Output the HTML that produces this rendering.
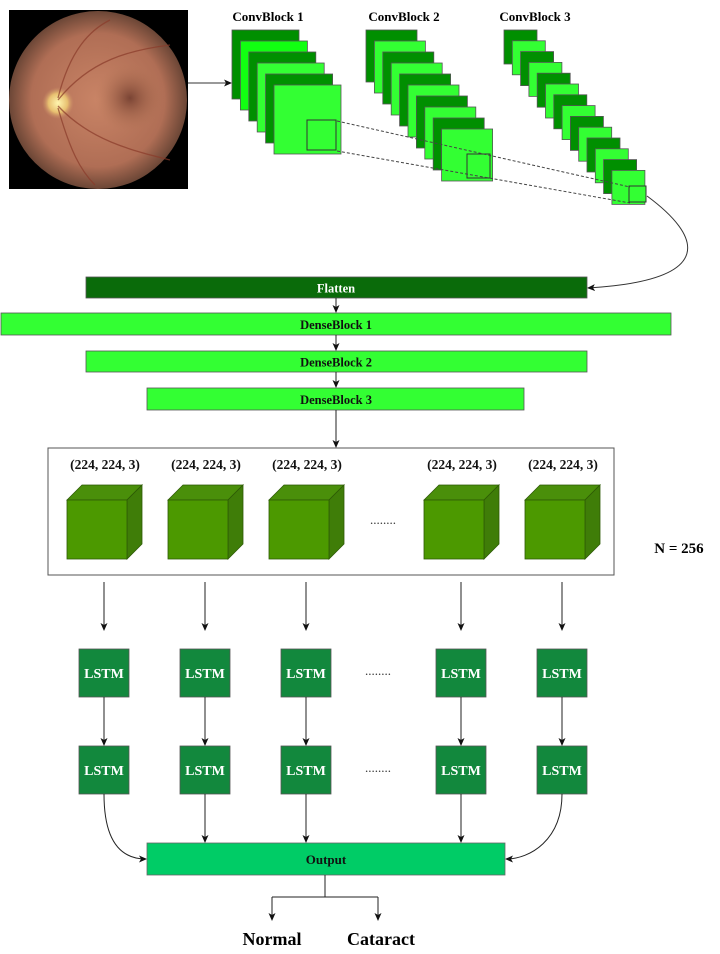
<!DOCTYPE html>
<html><head><meta charset="utf-8"><style>
html,body{margin:0;padding:0;background:#fff;}
svg{display:block;}
text{font-family:"Liberation Serif",serif;font-weight:bold;}
</style></head><body>
<svg id="s" width="720" height="954" viewBox="0 0 720 954">
<defs>
<marker id="ah" markerWidth="8" markerHeight="8" refX="7" refY="4" orient="auto" markerUnits="userSpaceOnUse"><path d="M0,0.5 L8,4 L0,7.5 L2,4 Z" fill="#111"/></marker>
<radialGradient id="eye" cx="0.5" cy="0.5" r="0.5">
<stop offset="0" stop-color="#c98466"/><stop offset="0.75" stop-color="#b06e55"/><stop offset="1" stop-color="#6b4636"/></radialGradient>
<radialGradient id="disc" cx="0.5" cy="0.5" r="0.5"><stop offset="0" stop-color="#fff6b0"/><stop offset="0.6" stop-color="#e8c070"/><stop offset="1" stop-color="#c98a68" stop-opacity="0"/></radialGradient>
<radialGradient id="mac" cx="0.5" cy="0.5" r="0.5"><stop offset="0" stop-color="#7a4434"/><stop offset="1" stop-color="#b67657" stop-opacity="0"/></radialGradient>
</defs>
<g>
<rect x="9" y="10" width="179" height="179" fill="#000"/>
<circle cx="98" cy="100" r="89" fill="url(#eye)"/>
<circle cx="130" cy="98" r="35" fill="url(#mac)"/>
<circle cx="58" cy="103" r="16" fill="url(#disc)"/>
<g stroke="#8a3b2a" stroke-width="1.3" fill="none" opacity="0.7">
<path d="M58,100 C90,60 130,50 170,45"/><path d="M58,106 C90,140 130,150 170,160"/><path d="M58,98 C70,50 90,30 110,20"/><path d="M58,108 C70,150 80,170 95,185"/></g>
</g>
<line x1="188" y1="83" x2="231" y2="83" stroke="#333" stroke-width="1" marker-end="url(#ah)"/>
<text x="268" y="21" font-size="13" text-anchor="middle">ConvBlock 1</text>
<text x="404" y="21" font-size="13" text-anchor="middle">ConvBlock 2</text>
<text x="535" y="21" font-size="13" text-anchor="middle">ConvBlock 3</text>
<g id="conv"></g>
<g stroke="#444" stroke-width="1" stroke-dasharray="3,2" fill="none">
<line x1="337" y1="121" x2="630" y2="187"/><line x1="337" y1="151" x2="630" y2="203"/></g>
<path d="M647,196 C700,235 720,280 588,288" fill="none" stroke="#333" stroke-width="1" marker-end="url(#ah)"/>
<g><rect x="86" y="277" width="501" height="21" fill="#0a6b0a" stroke="#555" stroke-width="0.8"/><text x="336" y="292.5" font-size="12.5" fill="#fff" text-anchor="middle">Flatten</text></g>
<g><rect x="1" y="313" width="670" height="22" fill="#33ff33" stroke="#555" stroke-width="0.8"/><text x="336" y="329" font-size="12.5" fill="#111" text-anchor="middle">DenseBlock 1</text></g>
<g><rect x="86" y="351" width="501" height="21" fill="#33ff33" stroke="#555" stroke-width="0.8"/><text x="336" y="366.5" font-size="12.5" fill="#111" text-anchor="middle">DenseBlock 2</text></g>
<g><rect x="147" y="388" width="377" height="22" fill="#33ff33" stroke="#555" stroke-width="0.8"/><text x="336" y="404" font-size="12.5" fill="#111" text-anchor="middle">DenseBlock 3</text></g>
<g stroke="#222" stroke-width="1">
<line x1="336" y1="298" x2="336" y2="312" marker-end="url(#ah)"/><line x1="336" y1="335" x2="336" y2="350" marker-end="url(#ah)"/><line x1="336" y1="372" x2="336" y2="387" marker-end="url(#ah)"/><line x1="336" y1="410" x2="336" y2="447" marker-end="url(#ah)"/></g>
<rect x="48" y="448" width="566" height="127" fill="#fff" stroke="#555" stroke-width="1"/>
<g id="cubes"></g>
<text x="383" y="524" font-size="13" text-anchor="middle" fill="#333" style="font-weight:normal">........</text>
<text x="679" y="553" font-size="15" text-anchor="middle">N = 256</text>
<g id="lstm"></g>
<text x="378" y="675" font-size="13" text-anchor="middle" fill="#333" style="font-weight:normal">........</text>
<text x="378" y="772" font-size="13" text-anchor="middle" fill="#333" style="font-weight:normal">........</text>
<g><rect x="147" y="843" width="358" height="32" fill="#00cc66" stroke="#666" stroke-width="0.8"/><text x="326" y="864" font-size="13" fill="#111" text-anchor="middle">Output</text></g>
<g stroke="#222" stroke-width="1" fill="none">
<line x1="325" y1="875" x2="325" y2="897"/><line x1="272" y1="897" x2="378" y2="897"/>
<line x1="272" y1="897" x2="272" y2="920" marker-end="url(#ah)"/><line x1="378" y1="897" x2="378" y2="920" marker-end="url(#ah)"/></g>
<text x="272" y="945" font-size="18" text-anchor="middle">Normal</text>
<text x="381" y="945" font-size="18" text-anchor="middle">Cataract</text>
</svg>
<script>
const NS='http://www.w3.org/2000/svg';
function mk(tag,attrs,parent){const e=document.createElementNS(NS,tag);for(const k in attrs)e.setAttribute(k,attrs[k]);parent.appendChild(e);return e;}
const conv=document.getElementById('conv');
const blocks=[{x:232,y:30,w:67,h:69,n:6,dx:8.4,dy:11,inner:[307,120,29,30]},{x:366,y:30,w:51,h:52,n:10,dx:8.4,dy:11,inner:[467,154,23,24]},{x:504,y:30,w:33,h:34,n:14,dx:8.3,dy:10.8,inner:[629,186,17,16]}];
blocks.forEach((b,bi)=>{const g=mk('g',{},conv);


for(let i=0;i<b.n;i++){const c=i%2?'#33ff33':'#008f00';mk('rect',{x:b.x+i*b.dx,y:b.y+i*b.dy,width:b.w,height:b.h,fill:(bi==0&&i==1)?'#11ff11':c,stroke:'#555','stroke-width':0.8},g);}
mk('rect',{x:b.inner[0],y:b.inner[1],width:b.inner[2],height:b.inner[3],fill:'#33ff33',stroke:'#333','stroke-width':1},g);});
const cols=[104,205,306,461,562];
const cubes=document.getElementById('cubes');const lstm=document.getElementById('lstm');
cols.forEach((cx,i)=>{const g=mk('g',{},cubes);


const t=mk('text',{x:cx+1,y:469,'font-size':13.5,'text-anchor':'middle',fill:'#111'},g);t.textContent='(224, 224, 3)';
const x=cx-37,y=500,w=60,h=59,d=15;
mk('path',{d:`M${x},${y} L${x+d},${y-d} L${x+w+d},${y-d} L${x+w},${y} Z`,fill:'#4a8f0a',stroke:'#2d5a05','stroke-width':0.8},g);
mk('path',{d:`M${x+w},${y} L${x+w+d},${y-d} L${x+w+d},${y+h-d} L${x+w},${y+h} Z`,fill:'#3f7d08',stroke:'#2d5a05','stroke-width':0.8},g);
mk('rect',{x:x,y:y,width:w,height:h,fill:'#4c9900',stroke:'#2d5a05','stroke-width':0.8},g);
const lg=mk('g',{},lstm);


mk('line',{x1:cx,y1:582,x2:cx,y2:630,stroke:'#222','stroke-width':1,'marker-end':'url(#ah)'},lg);
[649,746].forEach(yy=>{mk('rect',{x:cx-25,y:yy,width:50,height:48,fill:'#12883d',stroke:'#555','stroke-width':0.8},lg);
const tt=mk('text',{x:cx,y:yy+29,'font-size':14,fill:'#fff','text-anchor':'middle'},lg);tt.textContent='LSTM';});
mk('line',{x1:cx,y1:697,x2:cx,y2:745,stroke:'#222','stroke-width':1,'marker-end':'url(#ah)'},lg);
let p;
if(i==0)p=`M${cx},794 C${cx},840 120,859 146,859`;
else if(i==4)p=`M${cx},794 C${cx},840 530,859 506,859`;
else p=`M${cx},794 L${cx},842`;
mk('path',{d:p,fill:'none',stroke:'#222','stroke-width':1,'marker-end':'url(#ah)'},lg);});
</script>
</body></html>
